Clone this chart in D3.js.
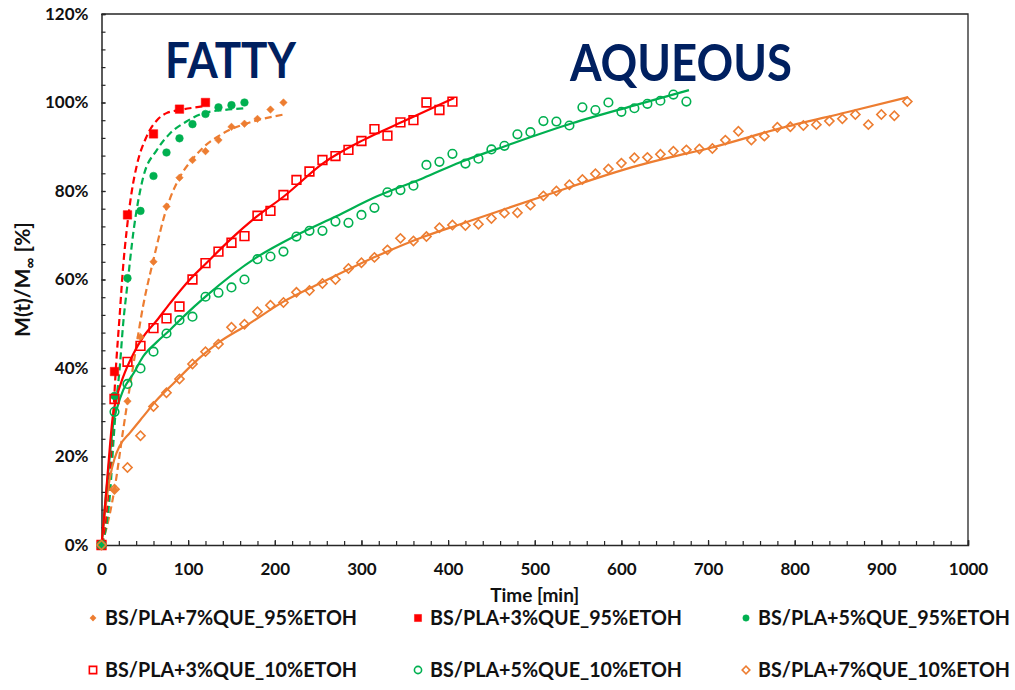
<!DOCTYPE html>
<html>
<head>
<meta charset="utf-8">
<script src="https://cdn.jsdelivr.net/npm/d3@7"></script>
<style>
  body { margin: 0; background: #fff; }
  svg text { font-family: Lato, "Open Sans", "DejaVu Sans", sans-serif; font-weight: 700; }
</style>
</head>
<body>
<svg id="chart" width="1015" height="690"></svg>
<script>
// ---- sampling times (min) ----
const sampleTimes = [0,15,30,45,60,75,90,105,120,135,150,165,180,195,210,225,240,255,270,285,300,
  315,330,345,360,375,390,405,420,435,450,465,480,495,510,525,540,555,570,585,600,615,630,645,660,
  675,690,705,720,735,750,765,780,795,810,825,840,855,870,885,900,915,930];

// ---- release data, M(t)/M∞ in % ----
const fatty7Values = [0,12.5,32.5,47,64,76.5,83,87,89,91.5,94.5,95.2,96.3,98.4,100];
const fatty3Times  = [0,15,30,60,90,120];
const fatty3Values = [0,39.2,74.6,92.9,98.5,100];
const fatty5Values = [0,33.7,60.3,75.5,83.4,88.7,91.9,95.1,97.4,98.9,99.4,100];
const aqueous3Values = [0,33,41.4,45,49,51.2,53.9,60,63.7,66.3,68.3,69.8,74.4,75.5,79.1,82.5,84.4,87,
  87.9,89.3,91.3,94,92.5,95.5,96,100,98.3,100.2];
const aqueous5Values = [0,30.1,36.4,39.9,43.7,47.8,50.8,51.6,56.1,57.0,58.2,60.0,64.6,65.2,66.3,69.7,
  71.0,71.0,73.1,72.8,74.6,76.2,79.7,80.2,81.2,85.9,86.6,88.4,86.2,87.3,89.4,90.2,92.8,93.3,95.8,95.7,
  94.8,98.9,98.3,100.0,97.9,98.7,99.7,100.4,101.8,100.2];
const aqueous7Values = [0,12.6,17.5,24.7,31.3,34.4,37.5,40.9,43.7,45.4,49.2,49.9,52.7,54.2,54.8,57.1,
  57.5,59.1,60.0,62.5,63.8,65.0,66.7,69.3,68.7,69.7,71.7,72.3,72.2,72.5,73.8,75.0,75.1,76.8,78.9,80.0,
  81.4,82.6,83.9,85.0,86.3,87.5,87.6,88.3,89.0,89.3,89.5,89.6,91.5,93.5,91.5,92.4,94.4,94.5,94.8,95.0,
  95.8,96.3,97.3,95.0,97.3,97.0,100.2];

// ---- model curves ----
const fitFatty3Times  = [0,5,9,13,16,21,25,29,35,41,52,64,75,90,105,120];
const fitFatty3Values = [0,6,15,27,38,52,63,71,80,86,92.3,96,97.6,98.3,98.8,99.2];
const fitFatty5Times  = [0,6,10,14,17,21,25,30,37,48,64,79,98,118,141,167];
const fitFatty5Values = [0,5,12,24,32,40,50,59,71,83,89.3,93,95.7,97.6,98.3,98.7];
const fitFatty7Times  = [0,6,15,25,37,48,60,75,90,105,120,135,150,165,180,195,211];
const fitFatty7Values = [0,4,12.6,26,41,54,64.5,76,83,87.2,90.3,92.4,94,95.1,96,96.7,97.3];
const fitAqueous3Times  = [0,5,10,13,17,25,37,48,64,79,102,120,148,179,210,256,302,348,407];
const fitAqueous3Values = [0,11,23,29,33,38,43.3,47,50.8,54.6,60,63.5,68.9,74.2,78.7,86.3,91.5,95.7,101];
const fitAqueous5Times  = [0,5,10,14,18,25,37,48,64,79,94,121,179,225,271,318,371,414,468,543,614,678];
const fitAqueous5Values = [0,11,21,28,31,35,38.8,42.6,45.9,48.6,51.5,56.3,65,70,74.3,78.8,82.9,86.5,90.3,95.3,99.3,102.8];
const fitAqueous7Times  = [0,5,10,15,21,33,48,64,83,106,137,168,210,256,318,371,414,506,620,656,700,782,860,931];
const fitAqueous7Values = [0,9,15.5,19.5,22.4,25.4,29,32.8,36.5,41,46,49.7,55,59.5,65.3,69.6,72.5,78.6,85.8,87.6,89.6,94.1,97.8,101.2];

// ---- axis ticks and labels ----
const xTickValues = [0,100,200,300,400,500,600,700,800,900,1000];
const xTickLabels = ["0","100","200","300","400","500","600","700","800","900","1000"];
const yTickValues = [0,20,40,60,80,100,120];
const yTickLabels = ["0%","20%","40%","60%","80%","100%","120%"];

const seriesNames = [
  "BS/PLA+7%QUE_95%ETOH", "BS/PLA+3%QUE_95%ETOH", "BS/PLA+5%QUE_95%ETOH",
  "BS/PLA+3%QUE_10%ETOH", "BS/PLA+5%QUE_10%ETOH", "BS/PLA+7%QUE_10%ETOH"
];

const ORANGE = "#ED7D31", RED = "#FF0000", GREEN = "#00B050", NAVY = "#002060";

const pairs = (ts, vs) => vs.map((v, i) => ({ t: ts[i], v }));

const series = [
  { name: seriesNames[0], data: pairs(sampleTimes, fatty7Values),   color: ORANGE, shape: "diamond", filled: true },
  { name: seriesNames[1], data: pairs(fatty3Times, fatty3Values),   color: RED,    shape: "square",  filled: true },
  { name: seriesNames[2], data: pairs(sampleTimes, fatty5Values),   color: GREEN,  shape: "circle",  filled: true },
  { name: seriesNames[3], data: pairs(sampleTimes, aqueous3Values), color: RED,    shape: "square",  filled: false },
  { name: seriesNames[4], data: pairs(sampleTimes, aqueous5Values), color: GREEN,  shape: "circle",  filled: false },
  { name: seriesNames[5], data: pairs(sampleTimes, aqueous7Values), color: ORANGE, shape: "diamond", filled: false }
];

const fits = [
  { data: pairs(fitFatty7Times, fitFatty7Values),     color: ORANGE, dashed: true },
  { data: pairs(fitFatty5Times, fitFatty5Values),     color: GREEN,  dashed: true },
  { data: pairs(fitFatty3Times, fitFatty3Values),     color: RED,    dashed: true },
  { data: pairs(fitAqueous7Times, fitAqueous7Values), color: ORANGE, dashed: false },
  { data: pairs(fitAqueous5Times, fitAqueous5Values), color: GREEN,  dashed: false },
  { data: pairs(fitAqueous3Times, fitAqueous3Values), color: RED,    dashed: false }
];

// ---- layout ----
const svg = d3.select("#chart");
const plot = { left: 101.5, right: 968, top: 14, bottom: 545 };
const x = d3.scaleLinear().domain([0, 1000]).range([plot.left, plot.right]);
const y = d3.scaleLinear().domain([0, 120]).range([plot.bottom, plot.top]);
const AXIS = "#262626";

svg.append("rect").attr("width", 1015).attr("height", 690).attr("fill", "#fff");

// frame (top and right edges)
svg.append("path")
  .attr("d", `M${plot.left},${plot.top}H${plot.right}V${plot.bottom}`)
  .attr("fill", "none").attr("stroke", AXIS).attr("stroke-width", 1.3);

// minor ticks
svg.append("g").attr("transform", `translate(0,${plot.bottom})`)
  .call(d3.axisBottom(x).tickValues(d3.range(0, 1001, 20)).tickSize(-4).tickFormat(""))
  .call(g => g.select(".domain").remove())
  .call(g => g.selectAll("line").attr("stroke", AXIS).attr("stroke-width", 1.2));
svg.append("g").attr("transform", `translate(${plot.left},0)`)
  .call(d3.axisLeft(y).tickValues(d3.range(0, 121, 4)).tickSize(-4).tickFormat(""))
  .call(g => g.select(".domain").remove())
  .call(g => g.selectAll("line").attr("stroke", AXIS).attr("stroke-width", 1.2));

// major axes
const xAxis = svg.append("g").attr("transform", `translate(0,${plot.bottom})`)
  .call(d3.axisBottom(x).tickValues(xTickValues).tickSize(-5).tickPadding(18)
    .tickFormat((d, i) => xTickLabels[i]));
const yAxis = svg.append("g").attr("transform", `translate(${plot.left},0)`)
  .call(d3.axisLeft(y).tickValues(yTickValues).tickSize(-4).tickPadding(13)
    .tickFormat((d, i) => yTickLabels[i]));
[xAxis, yAxis].forEach(g => {
  g.select(".domain").attr("stroke", AXIS).attr("stroke-width", 1.5);
  g.selectAll(".tick line").attr("stroke", AXIS).attr("stroke-width", 1.2);
  g.selectAll(".tick text").attr("font-size", 17).attr("fill", "#111")
    .attr("font-family", "Lato, 'Open Sans', sans-serif").attr("font-weight", 700);
});

// axis titles
svg.append("text").attr("x", (plot.left + plot.right) / 2).attr("y", 602)
  .attr("text-anchor", "middle").attr("font-size", 19).attr("fill", "#111").text("Time [min]");
const yTitle = svg.append("text")
  .attr("transform", `translate(30,${(plot.top + plot.bottom) / 2}) rotate(-90)`)
  .attr("text-anchor", "middle").attr("font-size", 21).attr("fill", "#111");
yTitle.append("tspan").text("M(t)/M");
yTitle.append("tspan").attr("font-size", 15).attr("dy", 5).text("∞");
yTitle.append("tspan").attr("dy", -5).text(" [%]");

// model curves
const line = d3.line().x(d => x(d.t)).y(d => y(d.v)).curve(d3.curveMonotoneX);
svg.append("g").selectAll("path").data(fits).join("path")
  .attr("d", d => line(d.data))
  .attr("fill", "none")
  .attr("stroke", d => d.color)
  .attr("stroke-width", 2.2)
  .attr("stroke-dasharray", d => d.dashed ? "7,4" : null);

// markers
const markerSpec = {
  square:  { filled: { type: d3.symbolSquare, size: 72 }, hollow: { type: d3.symbolSquare, size: 76 }, rotate: 0 },
  circle:  { filled: { type: d3.symbolCircle, size: 46 }, hollow: { type: d3.symbolCircle, size: 58 }, rotate: 0 },
  diamond: { filled: { type: d3.symbolSquare, size: 28 }, hollow: { type: d3.symbolSquare, size: 42 }, rotate: 45 }
};
function markerPath(s, scale) {
  const spec = markerSpec[s.shape][s.filled ? "filled" : "hollow"];
  return d3.symbol().type(spec.type).size(spec.size * (scale || 1))();
}
function styleMarker(sel, s) {
  sel.attr("fill", s.filled ? s.color : "none")
     .attr("stroke", s.color)
     .attr("stroke-width", s.filled ? 0.5 : 1.6);
}

series.forEach(s => {
  const g = svg.append("g");
  g.selectAll("path").data(s.data).join("path")
    .attr("d", markerPath(s))
    .attr("transform", d => `translate(${x(d.t)},${y(d.v)}) rotate(${markerSpec[s.shape].rotate})`)
    .call(styleMarker, s);
});

// big labels
svg.append("text").attr("x", 165).attr("y", 78).attr("font-size", 50).attr("fill", NAVY)
  .attr("textLength", 131).attr("lengthAdjust", "spacingAndGlyphs").text("FATTY");
svg.append("text").attr("x", 570).attr("y", 81).attr("font-size", 51).attr("fill", NAVY)
  .attr("textLength", 222).attr("lengthAdjust", "spacingAndGlyphs").text("AQUEOUS");

// legend
const legendCols = [93, 418, 746];
const legendRows = [618, 670];
series.forEach((s, i) => {
  const cx = legendCols[i % 3], cy = legendRows[Math.floor(i / 3)];
  const g = svg.append("g");
  g.append("path")
    .attr("d", markerPath(s, 0.7))
    .attr("transform", `translate(${cx},${cy}) rotate(${markerSpec[s.shape].rotate})`)
    .call(styleMarker, s);
  g.append("text").attr("x", cx + 12).attr("y", cy + 7)
    .attr("font-size", 20).attr("fill", "#111")
    .attr("textLength", 252).attr("lengthAdjust", "spacingAndGlyphs")
    .text(s.name);
});
</script>
</body>
</html>
